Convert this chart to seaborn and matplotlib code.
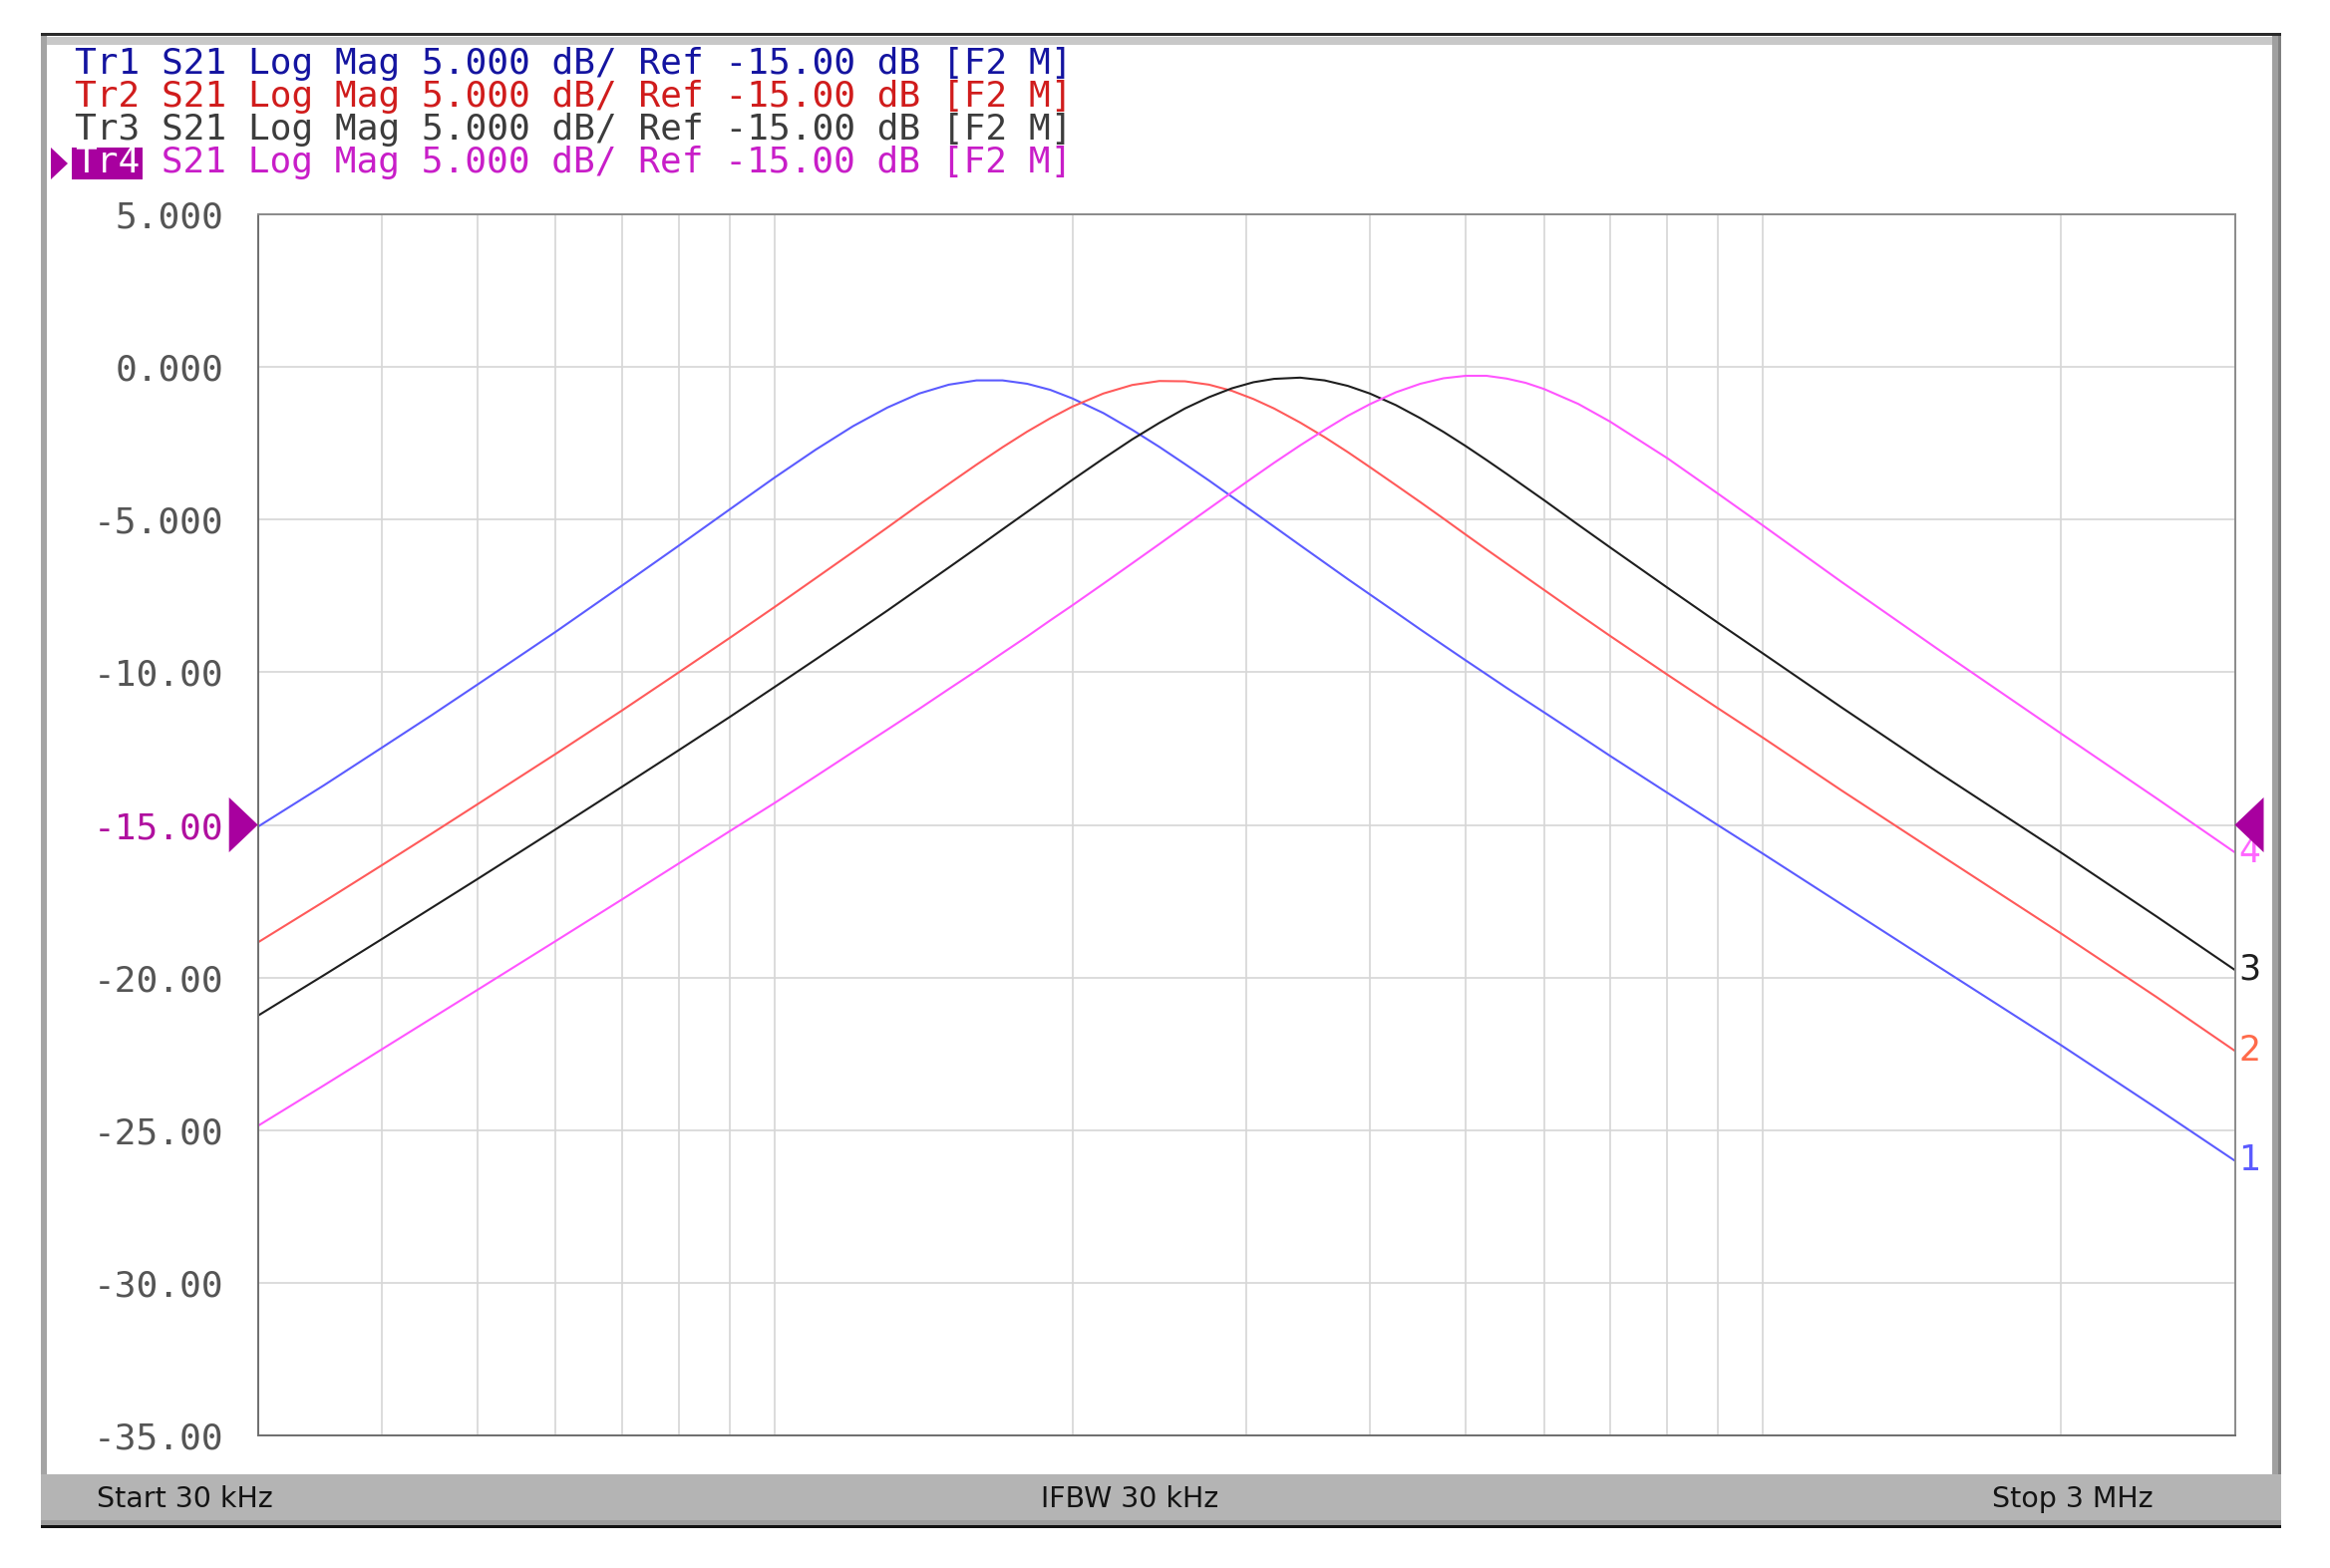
import numpy as np
import pandas as pd

import matplotlib
matplotlib.use('Agg')

import matplotlib.pyplot as plt
import matplotlib.transforms as mtransforms
from matplotlib.patches import Rectangle, Polygon
from matplotlib.ticker import NullLocator

import seaborn as sns

# frequency points (kHz)
freq_khz = [30, 35, 40, 45, 50, 60, 70, 80, 90, 100, 110, 120, 130, 140, 150, 160, 170, 180,
            190, 200, 215, 230, 245, 260, 275, 290, 305, 320, 340, 360, 380, 400, 425, 450,
            475, 500, 525, 550, 575, 600, 650, 700, 800, 900, 1000, 1200, 1500, 2000, 2500, 3000]

tr1_db = [-15.06, -13.70, -12.48, -11.40, -10.41, -8.68, -7.17, -5.85, -4.67, -3.62,
          -2.71, -1.94, -1.33, -0.87, -0.58, -0.44, -0.44, -0.55, -0.75, -1.03,
          -1.51, -2.06, -2.62, -3.18, -3.72, -4.25, -4.75, -5.23, -5.84, -6.41,
          -6.95, -7.45, -8.04, -8.60, -9.12, -9.61, -10.07, -10.51, -10.92, -11.31,
          -12.05, -12.74, -13.95, -15.01, -15.95, -17.60, -19.62, -22.21, -24.28, -26.0]
tr2_db = [-18.85, -17.51, -16.33, -15.28, -14.33, -12.68, -11.26, -10.00, -8.88, -7.86,
          -6.92, -6.06, -5.26, -4.51, -3.83, -3.20, -2.63, -2.12, -1.68, -1.30,
          -0.87, -0.59, -0.46, -0.47, -0.58, -0.78, -1.05, -1.36, -1.82, -2.30,
          -2.79, -3.28, -3.87, -4.43, -4.97, -5.49, -5.98, -6.44, -6.88, -7.30,
          -8.09, -8.81, -10.08, -11.18, -12.15, -13.87, -15.92, -18.55, -20.64, -22.40]
tr3_db = [-21.25, -19.92, -18.75, -17.71, -16.78, -15.15, -13.76, -12.55, -11.47, -10.48,
          -9.58, -8.75, -7.98, -7.25, -6.57, -5.93, -5.32, -4.75, -4.21, -3.70,
          -3.00, -2.37, -1.83, -1.36, -0.99, -0.70, -0.50, -0.39, -0.35, -0.44,
          -0.62, -0.87, -1.25, -1.68, -2.13, -2.59, -3.05, -3.50, -3.94, -4.36,
          -5.17, -5.91, -7.23, -8.38, -9.39, -11.15, -13.26, -15.90, -18.00, -19.75]
tr4_db = [-24.86, -23.53, -22.36, -21.33, -20.41, -18.81, -17.45, -16.26, -15.21, -14.28,
          -13.41, -12.61, -11.88, -11.20, -10.55, -9.95, -9.37, -8.83, -8.30, -7.81,
          -7.10, -6.43, -5.80, -5.20, -4.64, -4.11, -3.61, -3.14, -2.57, -2.06,
          -1.60, -1.22, -0.83, -0.55, -0.37, -0.29, -0.29, -0.38, -0.52, -0.72,
          -1.21, -1.79, -2.99, -4.15, -5.20, -7.04, -9.23, -12.00, -14.13, -15.90]

trace_names = ['Tr1', 'Tr2', 'Tr3', 'Tr4']
trace_colors = ['#5b5bff', '#ff5a5a', '#1e1e1e', '#ff55ff']
label_colors = ['#5b5bff', '#ff6a4a', '#1e1e1e', '#ff66ff']
header_colors = ['#1414a0', '#d01c1c', '#3c3c3c', '#c81ec8']
header_rest = ' S21 Log Mag 5.000 dB/ Ref -15.00 dB [F2 M]'

y_ticks = [5, 0, -5, -10, -15, -20, -25, -30, -35]
y_labels = ['5.000', '0.000', '-5.000', '-10.00', '-15.00', '-20.00', '-25.00', '-30.00', '-35.00']
x_grid_khz = [40, 50, 60, 70, 80, 90, 100, 200, 300, 400, 500, 600, 700, 800, 900, 1000, 2000]
ref_level = -15

footer_left = 'Start 30 kHz'
footer_mid = 'IFBW 30 kHz'
footer_right = 'Stop 3 MHz'

W, H = 2337, 1573
sns.set_theme(style='white')
plt.rcParams['font.family'] = ['DejaVu Sans']

fig = plt.figure(figsize=(W / 100, H / 100), dpi=100)
fig.patch.set_facecolor('white')


def px_rect(x0, y0, x1, y1, color, z=0):
    # rectangle in figure pixels, y measured from top
    fig.patches.append(Rectangle((x0 / W, 1 - y1 / H), (x1 - x0) / W, (y1 - y0) / H,
                                 transform=fig.transFigure, facecolor=color,
                                 edgecolor='none', zorder=z))


# window frame
px_rect(41, 37, 2287, 45, '#c8c8c8')
px_rect(41, 36, 47, 1480, '#a4a4a4')
px_rect(2279, 36, 2287, 1480, '#a0a0a0')
px_rect(2285, 36, 2288, 1480, '#808080')
px_rect(41, 33, 2288, 36, '#2a2a2a')
px_rect(41, 1479, 2288, 1530, '#b4b4b4')
px_rect(41, 1525, 2288, 1530, '#9c9c9c')
px_rect(41, 1530, 2288, 1533, '#111111')

ax = fig.add_axes([258.7 / W, 1 - 1440 / H, (2241.5 - 258.7) / W, (1440 - 215) / H])

df = pd.DataFrame({
    'freq': np.array(freq_khz * 4) * 1e3,
    'db': tr1_db + tr2_db + tr3_db + tr4_db,
    'trace': np.repeat(trace_names, len(freq_khz)),
})
sns.lineplot(data=df, x='freq', y='db', hue='trace', palette=dict(zip(trace_names, trace_colors)),
             estimator=None, sort=False, linewidth=1.5, legend=False, ax=ax)

ax.set_xscale('log')
ax.set_xlim(30e3, 3e6)
ax.set_ylim(-35, 5)
ax.set_xticks([f * 1e3 for f in x_grid_khz])
ax.set_xticklabels([])
ax.xaxis.set_minor_locator(NullLocator())
ax.set_yticks(y_ticks)
ax.set_yticklabels(y_labels, fontfamily='DejaVu Sans Mono', fontsize=26, color='#555555')
for lab, v in zip(ax.get_yticklabels(), y_ticks):
    if v == ref_level:
        lab.set_color('#b0109f')
ax.tick_params(length=0, pad=25)
ax.set_xlabel('')
ax.set_ylabel('')
ax.grid(True, color='#d6d6d6', linewidth=1.2)
ax.set_axisbelow(True)
for s in ax.spines.values():
    s.set_color('#8a8a8a')
    s.set_linewidth(1.4)
ax.spines['left'].set_color('#6e6e6e')
ax.spines['bottom'].set_color('#6e6e6e')

# reference level markers
blend = mtransforms.blended_transform_factory(ax.transAxes, ax.transData)
tw = 29 / 1982.8
ax.add_patch(Polygon([(-tw, ref_level + 0.9), (-tw, ref_level - 0.9), (0, ref_level)],
                     closed=True, transform=blend, facecolor='#a8009f', edgecolor='none',
                     clip_on=False, zorder=5))
ax.add_patch(Polygon([(1 + tw, ref_level + 0.9), (1 + tw, ref_level - 0.9), (1, ref_level)],
                     closed=True, transform=blend, facecolor='#a8009f', edgecolor='none',
                     clip_on=False, zorder=5))

# trace numbers at the right end
for i, vals in enumerate([tr1_db, tr2_db, tr3_db, tr4_db]):
    ax.text(1.002, vals[-1], str(i + 1), transform=blend, ha='left', va='center',
            fontsize=25, color=label_colors[i], clip_on=False)

# header lines
row_y = [64, 97, 130, 163]
char_w = 26 * 0.602 * 100 / 72
for i, name in enumerate(trace_names):
    ty = 1 - row_y[i] / H
    if name == 'Tr4':
        px_rect(72, 148, 143, 180, '#a8009f', z=1)
        fig.patches.append(Polygon([(51 / W, 1 - 148 / H), (51 / W, 1 - 180 / H), (68 / W, 1 - 164 / H)],
                                   closed=True, transform=fig.transFigure,
                                   facecolor='#a8009f', edgecolor='none'))
        fig.text(75 / W, ty, name, family='DejaVu Sans Mono', fontsize=26,
                 color='white', va='center', ha='left', zorder=3)
        fig.text((75 + len(name) * char_w) / W, ty, header_rest, family='DejaVu Sans Mono',
                 fontsize=26, color=header_colors[i], va='center', ha='left', zorder=3)
    else:
        fig.text(75 / W, ty, name + header_rest, family='DejaVu Sans Mono',
                 fontsize=26, color=header_colors[i], va='center', ha='left')

# status bar
fy = 1 - 1504 / H
fig.text(97 / W, fy, footer_left, fontsize=20.5, color='#141414', ha='left', va='center')
fig.text(1133 / W, fy, footer_mid, fontsize=20.5, color='#141414', ha='center', va='center')
fig.text(2160 / W, fy, footer_right, fontsize=20.5, color='#141414', ha='right', va='center')

plt.savefig('out.png', dpi=100, facecolor='white')
